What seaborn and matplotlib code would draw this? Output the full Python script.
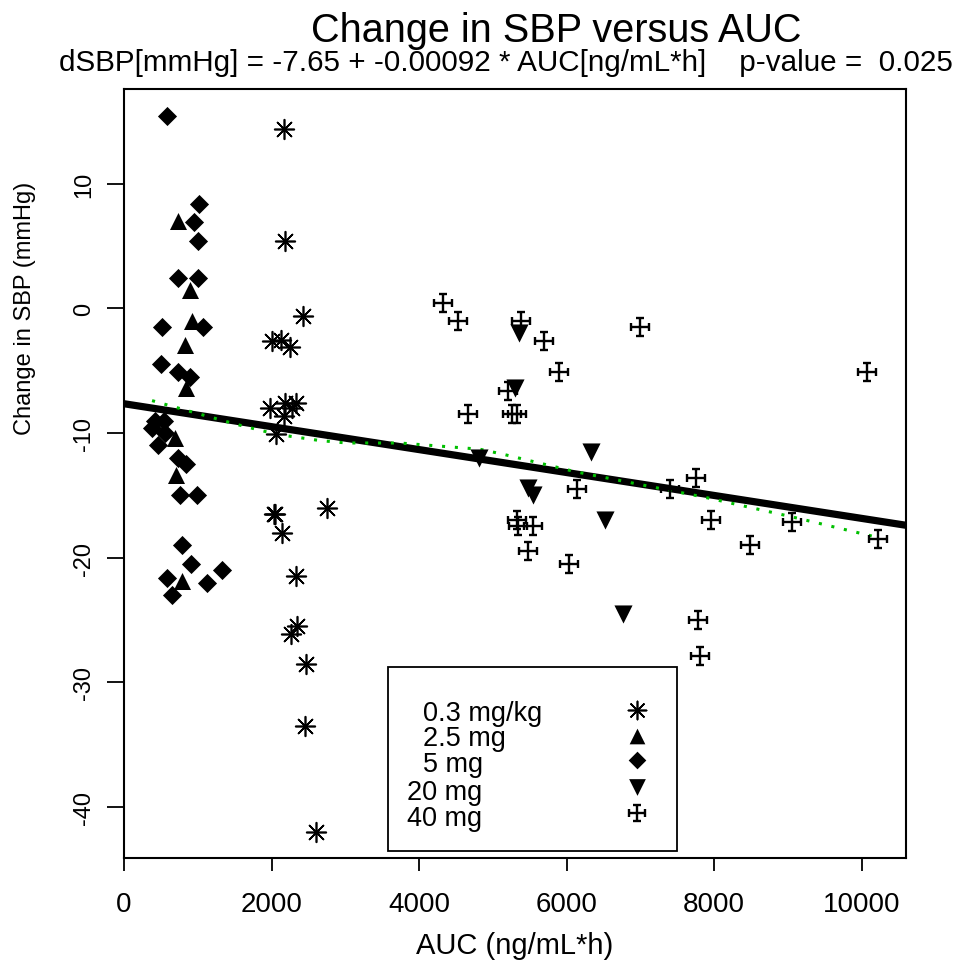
import numpy as np
import pandas as pd
import matplotlib
matplotlib.use("Agg")
import matplotlib.pyplot as plt
import seaborn as sns
from matplotlib.path import Path
from matplotlib.patches import Rectangle

# ---------------- data ----------------
X_03 = [2174, 2188, 2432, 2011, 2133, 2255, 1984, 2188, 2337, 2174, 2283, 2065,
        2030, 2050, 2147, 2745, 2337, 2351, 2269, 2473, 2459, 2609]
Y_03 = [14.4, 5.4, -0.6, -2.6, -2.5, -3.1, -8.0, -7.6, -7.6, -8.6, -8.0, -10.1,
        -16.5, -16.5, -18.0, -16.0, -21.5, -25.5, -26.1, -28.5, -33.5, -42.0]

X_25 = [734, 897, 924, 829, 842, 693, 707, 788]
Y_25 = [7.0, 1.5, -1.0, -2.9, -6.4, -10.4, -13.4, -21.9]

X_5 = [584, 1019, 951, 1005, 734, 1005, 516, 1073, 503, 734, 897, 421, 543, 380,
       557, 462, 734, 842, 761, 992, 788, 910, 1332, 584, 1128, 652]
Y_5 = [15.4, 8.4, 6.9, 5.4, 2.4, 2.4, -1.5, -1.5, -4.5, -5.1, -5.5, -9.0, -9.0, -9.6,
       -10.0, -11.0, -12.0, -12.5, -15.0, -15.0, -19.0, -20.5, -21.0, -21.6, -22.0, -23.0]

X_20 = [5353, 5299, 4810, 6332, 5476, 5543, 6522, 6766]
Y_20 = [-2.0, -6.4, -12.0, -11.5, -14.4, -15.0, -17.0, -24.5]

X_40 = [4321, 4524, 5380, 5693, 6997, 5897, 5204, 4660, 5258, 5326, 6141, 7405,
        7758, 5330, 5340, 5543, 7962, 5476, 6033, 7785, 7812, 8490, 10068, 9049, 10217]
Y_40 = [0.4, -1.0, -1.0, -2.6, -1.5, -5.1, -6.6, -8.5, -8.5, -8.5, -14.5, -14.5,
        -13.6, -17.0, -17.5, -17.5, -17.0, -19.5, -20.5, -25.0, -27.9, -19.0, -5.1, -17.1, -18.5]

LOWESS_X = [380, 856, 1522, 2065, 2649, 3016, 3736, 4823, 5136, 6114, 7908, 9035, 10163]
LOWESS_Y = [-7.4, -8.2, -9.3, -10.1, -10.6, -10.8, -10.8, -11.3, -11.7, -13.1, -15.2, -16.7, -18.3]

INTERCEPT = -7.65
SLOPE = -0.00092
PVALUE = 0.025

LABELS = ["0.3 mg/kg", "2.5 mg", "5 mg", "20 mg", "40 mg"]
X_TICKS = [0, 2000, 4000, 6000, 8000, 10000]
Y_TICKS = [-40, -30, -20, -10, 0, 10]

# ---------------- style ----------------
sns.set_theme(style="white")
plt.rcParams["font.family"] = ["Liberation Sans", "DejaVu Sans"]
plt.rcParams["text.color"] = "black"
plt.rcParams["axes.labelcolor"] = "black"
plt.rcParams["xtick.color"] = "black"
plt.rcParams["ytick.color"] = "black"

# cross-potent marker (plus with end bars)
cross_verts = [(-1, 0), (1, 0), (0, -1), (0, 1),
               (-1, -0.5), (-1, 0.5), (1, -0.5), (1, 0.5),
               (-0.5, -1), (0.5, -1), (-0.5, 1), (0.5, 1)]
cross_codes = [Path.MOVETO, Path.LINETO] * 6
CROSS = Path(cross_verts, cross_codes)
ASTER = (8, 2, 0)

fig = plt.figure(figsize=(9.57, 9.70), dpi=100)
ax = fig.add_axes([0.1296, 0.1144, 0.8171, 0.7928])

groups = [
    (X_03, Y_03, ASTER, 200, 1.2, False),
    (X_25, Y_25, "^", 150, 0.0, True),
    (X_5, Y_5, "D", 95, 0.0, True),
    (X_20, Y_20, "v", 170, 0.0, True),
    (X_40, Y_40, CROSS, 160, 1.7, True),
]

# regression line from the fitted equation
ax.axline((0, INTERCEPT), slope=SLOPE, color="black", lw=5.2, zorder=2,
          solid_capstyle="butt")
# lowess smoother
sns.lineplot(x=LOWESS_X, y=LOWESS_Y, color="#00c000", linestyle=(0, (1, 3.2)),
             linewidth=2.2, ax=ax, zorder=2, sort=True, estimator=None)

for xs, ys, m, s, lw, filled in groups:
    df = pd.DataFrame({"AUC": xs, "dSBP": ys})
    if filled:
        sns.scatterplot(data=df, x="AUC", y="dSBP", marker=m, s=s, color="black",
                        edgecolor="black", linewidth=lw, ax=ax, legend=False, zorder=3)
    else:
        sns.scatterplot(data=df, x="AUC", y="dSBP", marker=m, s=s, color="black",
                        linewidth=lw, ax=ax, legend=False, zorder=3)

ax.set_xlim(0, 10600)
ax.set_ylim(-44.1, 17.6)
ax.set_xticks(X_TICKS)
ax.set_xticklabels([str(t) for t in X_TICKS])
ax.set_yticks(Y_TICKS)
ax.set_yticklabels([str(t) for t in Y_TICKS])

for sp in ax.spines.values():
    sp.set_visible(True)
    sp.set_color("black")
    sp.set_linewidth(1.5)

ax.tick_params(axis="x", bottom=True, direction="out", length=9.5, width=1.3,
               pad=14, labelsize=20, colors="black")
ax.tick_params(axis="y", left=True, direction="out", length=12, width=1.3,
               pad=9, labelsize=17, colors="black", labelrotation=90)
for lab in ax.get_yticklabels():
    lab.set_va("center")

ax.set_xlabel("AUC (ng/mL*h)", fontsize=21, va="center", color="black")
ax.xaxis.set_label_coords(0.5, (859 - 946) / 769)
ax.set_ylabel("Change in SBP (mmHg)", fontsize=17, va="center", color="black")
ax.yaxis.set_label_coords((25 - 124) / 782, (859 - 308) / 769)

fig.text(556 / 957, 1 - 42 / 970, "Change in SBP versus AUC", ha="center",
         va="baseline", fontsize=28.5, color="black")
fig.text(506 / 957, 1 - 71 / 970,
         f"dSBP[mmHg] = {INTERCEPT} + {SLOPE} * AUC[ng/mL*h]    p-value =  {PVALUE}",
         ha="center", va="baseline", fontsize=21.3, color="black")

# legend box (drawn in axes coordinates)
ax.add_patch(Rectangle((0.3376, 0.0091), 0.7072 - 0.3376, 0.2484 - 0.0091,
                       transform=ax.transAxes, fill=False, edgecolor="black",
                       lw=1.3, zorder=5))
text_x = [0.3824, 0.3824, 0.3824, 0.3619, 0.3619]
text_y = [0.1880, 0.1563, 0.1225, 0.0861, 0.0523]
mark_y = [0.1920, 0.1586, 0.1270, 0.0920, 0.0590]
for (xs, ys, m, s, lw, filled), lab, tx, ty, my in zip(groups, LABELS, text_x, text_y, mark_y):
    ax.text(tx, ty, lab, transform=ax.transAxes, ha="left", va="center",
            fontsize=19.5, zorder=6, color="black")
    kw = dict(marker=m, s=s * 0.85, color="black", linewidths=lw,
              transform=ax.transAxes, clip_on=False, zorder=6)
    if filled:
        kw["edgecolors"] = "black"
    ax.scatter([0.656], [my], **kw)

fig.savefig("out.png", dpi=100, facecolor="white")
